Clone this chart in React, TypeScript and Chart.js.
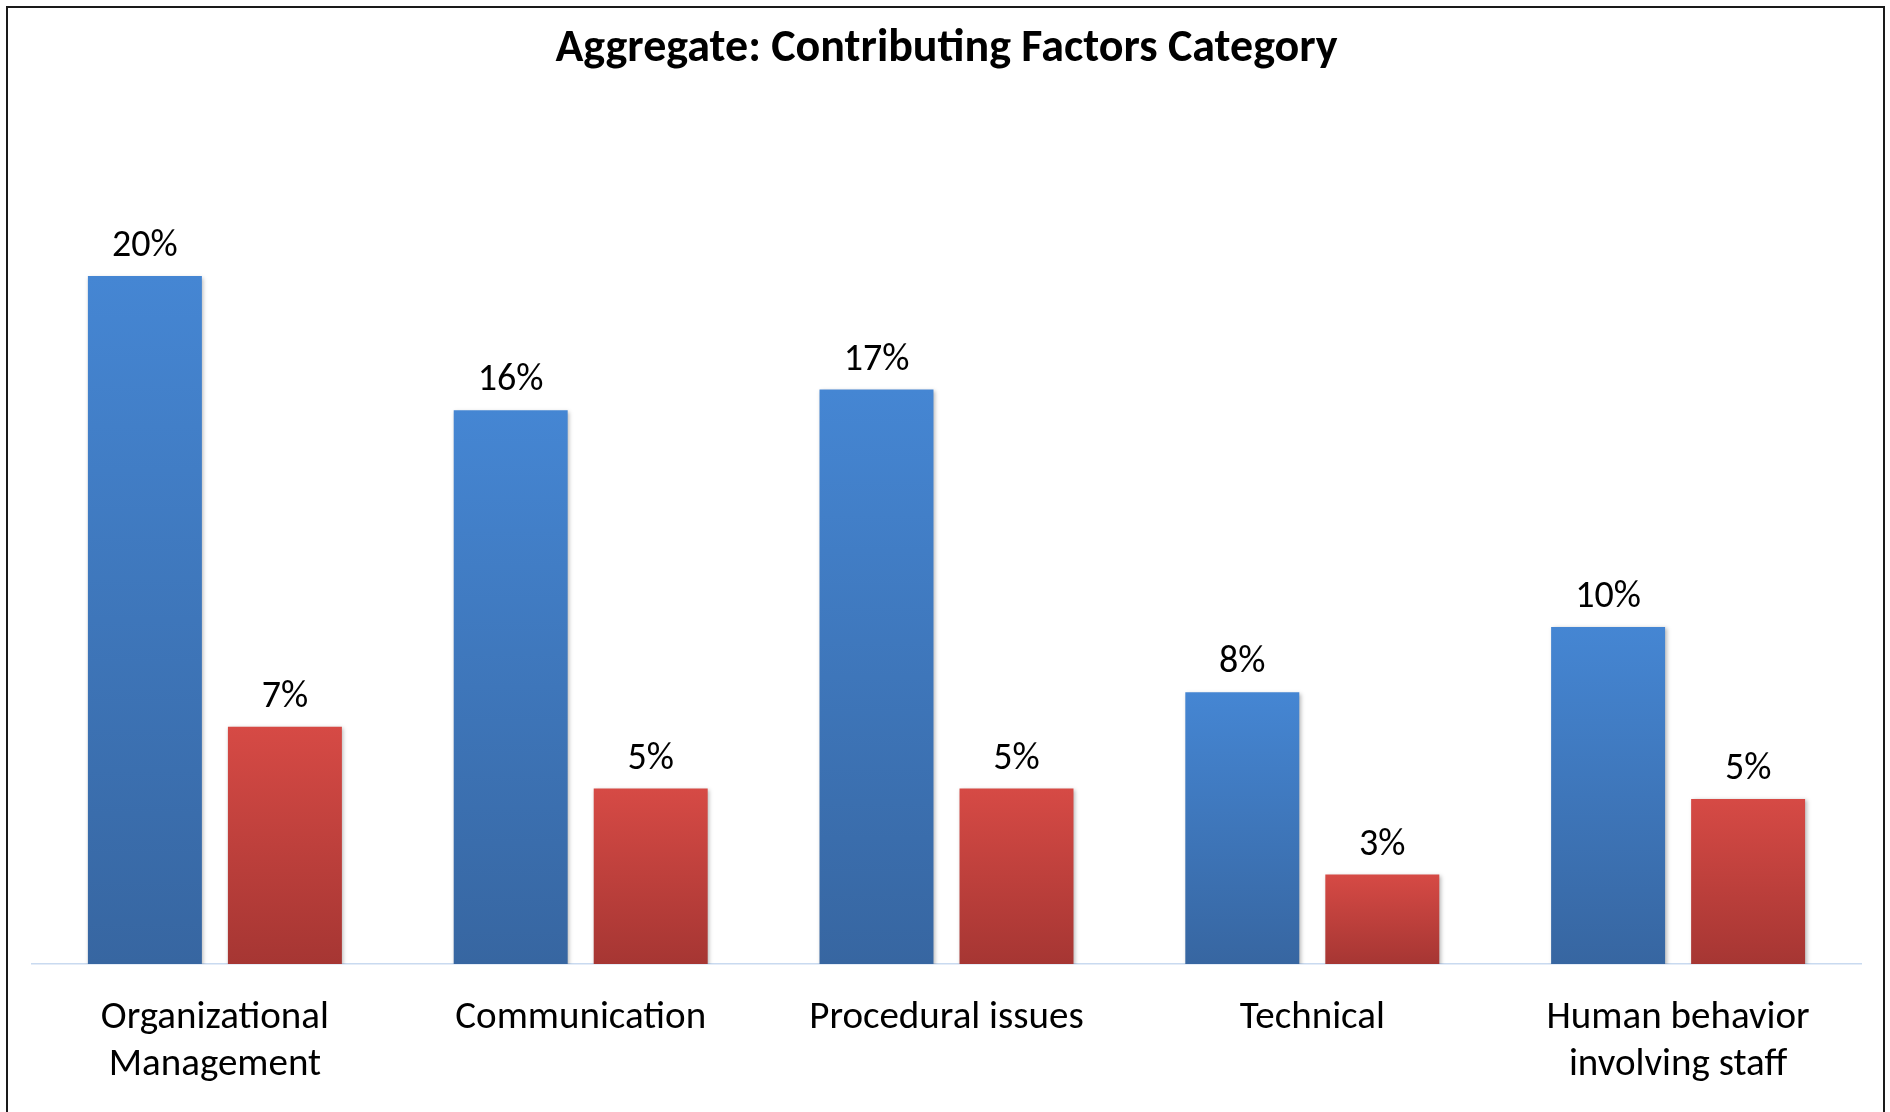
import React, { useEffect, useRef } from "react";
import { Chart, registerables } from "chart.js";

Chart.register(...registerables);

const categories: (string | string[])[] = [
  ["Organizational", "Management"],
  "Communication",
  "Procedural issues",
  "Technical",
  ["Human behavior", "involving staff"],
];
const seriesBlue = [20, 16.1, 16.7, 7.9, 9.8];
const seriesRed = [6.9, 5.1, 5.1, 2.6, 4.8];
const titleText = "Aggregate: Contributing Factors Category";

const FONT = "Carlito, Calibri, Lato, sans-serif";

function barGradient(top: string, bottom: string, fallback: string) {
  return (c: any) => {
    const chart = c.chart;
    const { ctx, chartArea, scales } = chart;
    if (!chartArea || !scales || !scales.y || c.type !== "data") return fallback;
    const y0 = scales.y.getPixelForValue(0);
    const y1 = scales.y.getPixelForValue(c.raw as number);
    if (!isFinite(y0) || !isFinite(y1)) return fallback;
    const g = ctx.createLinearGradient(0, y1, 0, y0);
    g.addColorStop(0, top);
    g.addColorStop(1, bottom);
    return g;
  };
}

const shadowPlugin = {
  id: "barShadow",
  beforeDatasetDraw(chart: any) {
    const ctx = chart.ctx;
    ctx.save();
    ctx.shadowColor = "rgba(0,0,0,0.28)";
    ctx.shadowBlur = 4;
    ctx.shadowOffsetX = 1.5;
    ctx.shadowOffsetY = 1.5;
  },
  afterDatasetDraw(chart: any) {
    chart.ctx.restore();
  },
};

const valueLabelPlugin = {
  id: "valueLabels",
  afterDatasetsDraw(chart: any) {
    const ctx = chart.ctx;
    ctx.save();
    ctx.font = `38px ${FONT}`;
    ctx.fillStyle = "#000";
    ctx.textAlign = "center";
    ctx.textBaseline = "alphabetic";
    chart.data.datasets.forEach((ds: any, i: number) => {
      const meta = chart.getDatasetMeta(i);
      meta.data.forEach((bar: any, j: number) => {
        ctx.fillText(Math.round(ds.data[j]) + "%", bar.x, bar.y - 20);
      });
    });
    ctx.restore();
  },
};

export default function App() {
  const canvasRef = useRef<HTMLCanvasElement | null>(null);

  useEffect(() => {
    if (!canvasRef.current) return;
    const chart = new Chart(canvasRef.current, {
      type: "bar",
      data: {
        labels: categories,
        datasets: [
          {
            label: "Series 1",
            data: seriesBlue,
            backgroundColor: barGradient("#4586d3", "#3766a1", "#4180c8"),
            borderWidth: 0,
            categoryPercentage: 0.7655,
            barPercentage: 0.814,
          },
          {
            label: "Series 2",
            data: seriesRed,
            backgroundColor: barGradient("#d64a45", "#a63633", "#c84440"),
            borderWidth: 0,
            categoryPercentage: 0.7655,
            barPercentage: 0.814,
          },
        ],
      },
      options: {
        animation: false,
        responsive: false,
        maintainAspectRatio: false,
        layout: { padding: { left: 32, right: 29, top: 0, bottom: 7 } },
        plugins: {
          legend: { display: false },
          tooltip: { enabled: false },
          title: {
            display: true,
            text: titleText,
            color: "#000",
            font: { family: FONT, size: 46, weight: "bold", lineHeight: 1.2 },
            padding: { top: 21.6, bottom: 27.2 },
          },
        },
        scales: {
          x: {
            grid: { display: false, drawTicks: false },
            border: { display: true, color: "#c9daf0", width: 1.5 },
            ticks: {
              color: "#000",
              font: { family: FONT, size: 39, lineHeight: 47 / 39 },
              padding: 31,
              maxRotation: 0,
              autoSkip: false,
            },
          },
          y: {
            display: false,
            min: 0,
            max: 25,
          },
        },
      },
      plugins: [shadowPlugin, valueLabelPlugin],
    });
    return () => chart.destroy();
  }, []);

  return (
    <div
      style={{
        position: "fixed",
        left: 0,
        top: 0,
        width: 1890,
        height: 1112,
        overflow: "hidden",
        background: "#fff",
      }}
    >
      <div
        style={{
          position: "absolute",
          left: 6,
          top: 6,
          width: 1879,
          height: 1300,
          boxSizing: "border-box",
          border: "2px solid #1a1a1a",
        }}
      />
      <canvas
        ref={canvasRef}
        width={1890}
        height={1127}
        style={{ position: "absolute", left: 0, top: 0, width: 1890, height: 1127 }}
      />
    </div>
  );
}
